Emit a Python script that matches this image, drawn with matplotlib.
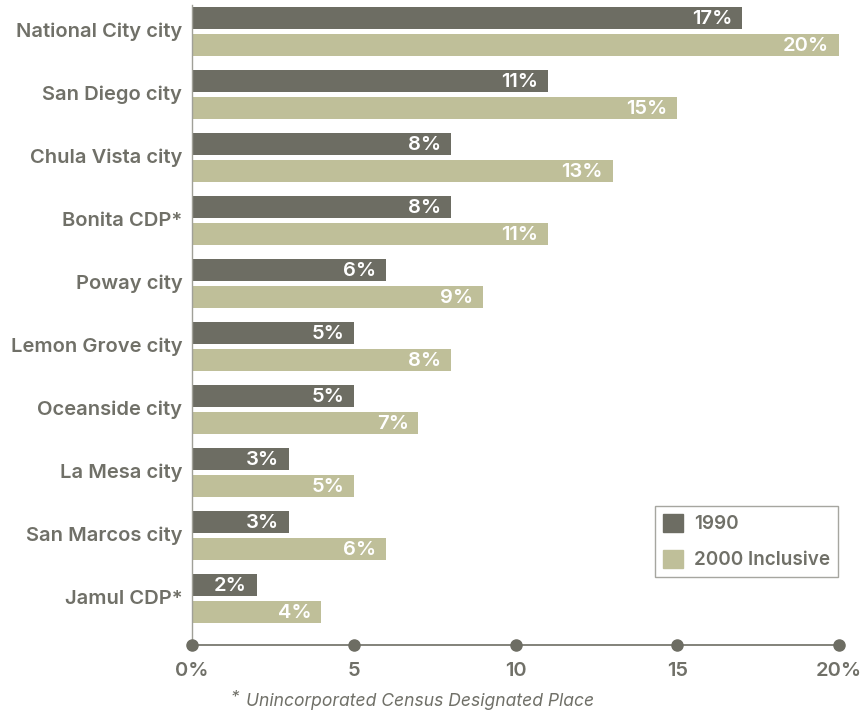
import numpy as np
import matplotlib.pyplot as plt
import matplotlib.transforms as mtrans
from matplotlib.patches import Patch

places = ["National City city", "San Diego city", "Chula Vista city", "Bonita CDP*",
          "Poway city", "Lemon Grove city", "Oceanside city", "La Mesa city",
          "San Marcos city", "Jamul CDP*"]
v1990 = [17, 11, 8, 8, 6, 5, 5, 3, 3, 2]
v2000 = [20, 15, 13, 11, 9, 8, 7, 5, 6, 4]
xticks = [0, 5, 10, 15, 20]
xlabels = ["0%", "5", "10", "15", "20%"]

dark = "#6d6d63"
light = "#bfbf99"
txt = "#707068"
wt = 600

plt.rcParams['font.family'] = ['Inter', 'DejaVu Sans']

fig = plt.figure(figsize=(8.61, 7.15), dpi=100)
ax = fig.add_axes([192/861, 1-645/715, (839-192)/861, 640/715])

y = np.arange(len(places))
h = 0.349
off = 0.214
ax.barh(y - off, v1990, height=h, color=dark)
ax.barh(y + off, v2000, height=h, color=light)

for i in range(len(places)):
    ax.text(v1990[i] - 0.3, y[i] - off + 0.01, f"{v1990[i]}%", color="white", ha="right",
            va="center", fontsize=14.5, fontweight=wt)
    ax.text(v2000[i] - 0.3, y[i] + off + 0.01, f"{v2000[i]}%", color="white", ha="right",
            va="center", fontsize=14.5, fontweight=wt)

ax.set_ylim((645 - 31.5)/63, (5 - 31.5)/63)
ax.set_xlim(0, 20)
ax.set_yticks(y)
ax.set_yticklabels(places, fontsize=14.5, color=txt, fontweight=wt)
ax.tick_params(axis="y", length=0, pad=7)
shift = mtrans.ScaledTranslation(0, 1.5/100, fig.dpi_scale_trans)
for lab in ax.get_yticklabels():
    lab.set_transform(lab.get_transform() + shift)
ax.set_xticks(xticks)
ax.set_xticklabels(xlabels, fontsize=14.5, color=txt, fontweight=wt)
ax.tick_params(axis="x", length=0, pad=12)

for s in ["top", "right"]:
    ax.spines[s].set_visible(False)
ax.spines["left"].set_color("#a0a098")
ax.spines["left"].set_linewidth(1)
ax.spines["bottom"].set_color(dark)
ax.spines["bottom"].set_linewidth(1.2)

ax.plot(xticks, [ax.get_ylim()[0]]*len(xticks), "o", color=dark, markersize=8,
        clip_on=False, zorder=5)

handles = [Patch(color=dark, label="1990"), Patch(color=light, label="2000 Inclusive")]
leg = ax.legend(handles=handles, loc="upper right", bbox_to_anchor=(0.9985, 0.217),
                frameon=True, fancybox=False, prop={"size": 13.6, "weight": wt},
                handlelength=1.05, handleheight=1.05, labelspacing=0.9, borderpad=0.42,
                handletextpad=0.6, borderaxespad=0)
leg.get_frame().set_edgecolor("#909088")
leg.get_frame().set_linewidth(1)
for t in leg.get_texts():
    t.set_color(txt)

fig.text(231/861, 1-697/715, "*", fontsize=12, color=txt, style="italic",
         fontweight=400, va="center")
fig.text(246/861, 1-701/715, "Unincorporated Census Designated Place", fontsize=12.6,
         color=txt, style="italic", fontweight=400, va="center")

fig.savefig("out.png", dpi=100)
